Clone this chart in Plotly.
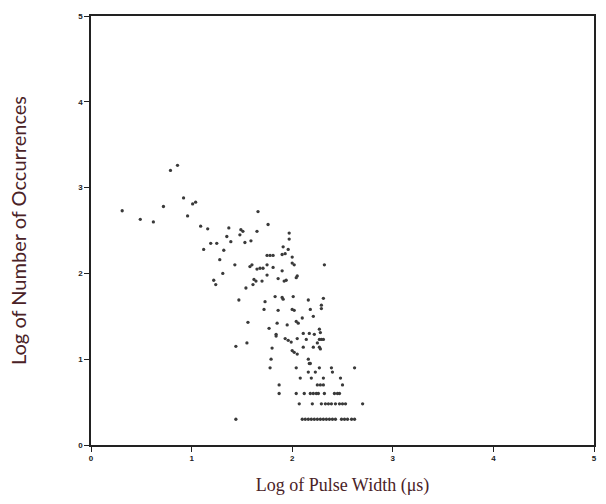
import plotly.graph_objects as go

# Log of pulse width (microseconds)
log_width = [
    0.31, 0.49, 0.62, 0.72, 0.79, 0.86, 0.92, 0.96, 1.01, 1.04, 1.66,
    1.09, 1.16, 1.37, 1.49, 1.51, 1.65, 1.76, 1.97, 1.35, 1.48, 1.97,
    1.19, 1.25, 1.39, 1.53, 1.59, 1.12, 1.32, 1.91, 1.96,
    1.28, 1.75, 1.78, 1.81, 1.90, 1.93, 2.00,
    1.58, 1.60, 1.65, 1.68, 1.71, 1.43, 1.75, 1.81, 1.90, 2.00, 2.02, 2.32,
    1.31, 1.62, 1.64, 1.70, 1.75, 1.86, 1.92, 1.94, 2.04, 2.05, 1.22, 1.24, 1.54, 1.61,
    1.47, 1.73, 1.83, 1.90, 1.91, 2.01, 2.16, 2.31,
    1.72, 1.86, 2.00, 2.02, 2.18, 2.29, 2.29,
    1.56, 1.85, 1.95, 2.04, 2.06, 2.10, 2.21,
    1.77, 1.84, 1.84, 1.93, 1.96, 2.05, 1.99, 2.11, 2.17, 2.14, 2.22, 2.27, 2.28,
    2.27, 2.29, 2.31, 2.25,
    1.44, 1.55, 1.80, 2.00, 2.02, 2.05, 2.11, 2.21, 2.27, 2.28,
    1.79, 2.16, 2.17, 2.18,
    1.78, 2.04, 2.27, 2.39, 2.62,
    2.40, 2.16, 2.23,
    2.08, 2.19, 2.31, 2.48,
    1.87, 2.25, 2.28, 2.31, 2.50,
    1.87, 2.04, 2.12, 2.18, 2.21, 2.24, 2.26, 2.32, 2.42, 2.45, 2.47,
    2.07, 2.20, 2.29, 2.33, 2.36, 2.39, 2.43, 2.47, 2.50, 2.53, 2.70,
    1.44, 2.10, 2.13, 2.16, 2.19, 2.22, 2.25, 2.28, 2.31, 2.34, 2.37, 2.40,
    2.43, 2.49, 2.52, 2.55, 2.59, 2.62,
]

# Log of number of occurrences
log_count = [
    2.73, 2.63, 2.60, 2.78, 3.20, 3.26, 2.88, 2.67, 2.81, 2.83, 2.72,
    2.55, 2.52, 2.53, 2.51, 2.49, 2.49, 2.57, 2.47, 2.43, 2.45, 2.40,
    2.35, 2.35, 2.37, 2.36, 2.38, 2.28, 2.27, 2.31, 2.28,
    2.16, 2.21, 2.21, 2.21, 2.22, 2.23, 2.19,
    2.08, 2.10, 2.05, 2.06, 2.06, 2.10, 2.10, 2.07, 2.03, 2.12, 2.10, 2.10,
    2.00, 1.93, 1.91, 1.91, 1.98, 1.94, 1.91, 1.92, 1.95, 1.97, 1.92, 1.87, 1.83, 1.87,
    1.69, 1.67, 1.73, 1.72, 1.70, 1.73, 1.69, 1.71,
    1.58, 1.57, 1.58, 1.57, 1.58, 1.59, 1.63,
    1.43, 1.42, 1.40, 1.44, 1.42, 1.48, 1.50,
    1.36, 1.29, 1.27, 1.24, 1.22, 1.24, 1.20, 1.30, 1.30, 1.23, 1.29, 1.35, 1.31,
    1.23, 1.23, 1.23, 1.19,
    1.15, 1.19, 1.13, 1.10, 1.08, 1.06, 1.14, 1.14, 1.14, 1.12,
    1.00, 1.00, 0.95, 0.95,
    0.90, 0.90, 0.90, 0.90, 0.90,
    0.85, 0.85, 0.85,
    0.78, 0.78, 0.78, 0.78,
    0.70, 0.70, 0.70, 0.70, 0.70,
    0.60, 0.60, 0.60, 0.60, 0.60, 0.60, 0.60, 0.60, 0.60, 0.60, 0.60,
    0.48, 0.48, 0.48, 0.48, 0.48, 0.48, 0.48, 0.48, 0.48, 0.48, 0.48,
    0.30, 0.30, 0.30, 0.30, 0.30, 0.30, 0.30, 0.30, 0.30, 0.30, 0.30, 0.30,
    0.30, 0.30, 0.30, 0.30, 0.30, 0.30,
]

tick_vals = [0, 1, 2, 3, 4, 5]
tick_text = ["0", "1", "2", "3", "4", "5"]

fig = go.Figure()
fig.add_trace(go.Scatter(
    x=log_width, y=log_count, mode="markers",
    marker=dict(size=3.3, color="#3a3a3a"),
    showlegend=False,
))

x_title_font = dict(family="Liberation Serif", size=18, color="#4a2227")
y_title_font = dict(family="Lato", size=20, color="#4a2227")
tick_font = dict(family="Liberation Sans", size=8, color="#222222", weight="bold")

fig.update_layout(
    width=606, height=504,
    margin=dict(l=91, r=9, t=16, b=59),
    paper_bgcolor="white", plot_bgcolor="white",
    xaxis=dict(
        range=[0, 5], tickvals=tick_vals, ticktext=tick_text,
        showgrid=False, zeroline=False,
        showline=True, linecolor="#222222", linewidth=1.5, mirror=True,
        ticks="outside", ticklen=5, tickcolor="#222222", tickwidth=1,
        tickfont=tick_font,
        title=dict(text="Log of Pulse Width (μs)", font=x_title_font, standoff=16),
    ),
    yaxis=dict(
        range=[0, 5], tickvals=tick_vals, ticktext=tick_text,
        showgrid=False, zeroline=False,
        showline=True, linecolor="#222222", linewidth=1.5, mirror=True,
        ticks="outside", ticklen=5, tickcolor="#222222", tickwidth=1,
        tickfont=tick_font,
        title=dict(text="Log of Number of Occurrences", font=y_title_font, standoff=46),
    ),
)

fig.write_html("out.html")
